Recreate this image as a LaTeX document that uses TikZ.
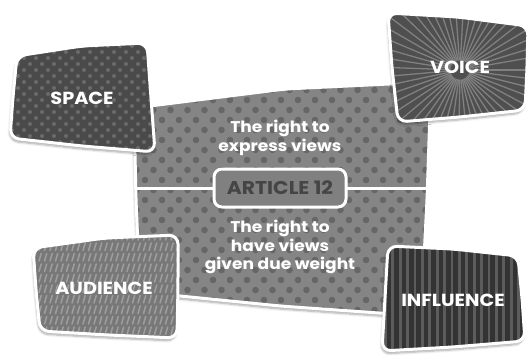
\documentclass[tikz,border=0pt]{standalone}
\usepackage{fontspec}
\setmainfont{Poppins}[FakeStretch=1.1]
\usetikzlibrary{shadows.blur}

\definecolor{midBase}{gray}{0.52}
\definecolor{midDot}{gray}{0.40}
\definecolor{spaceBase}{gray}{0.29}
\definecolor{spaceDot}{gray}{0.42}
\definecolor{voiceBase}{gray}{0.31}
\definecolor{voiceRay}{gray}{0.50}
\definecolor{audBase}{gray}{0.47}
\definecolor{audDash}{gray}{0.62}
\definecolor{inflBase}{gray}{0.20}
\definecolor{inflStripe}{gray}{0.36}
\definecolor{artBase}{gray}{0.50}
\definecolor{artText}{gray}{0.27}

\begin{document}
\begin{tikzpicture}[x=1pt, y=-1pt, line join=round, line cap=round]
	\tikzset{
		frame/.style={draw=white, line width=3pt, rounded corners=9pt},
		shade-box/.style={rounded corners=9pt, blur shadow={shadow xshift=-1pt, shadow yshift=-3pt, shadow blur steps=6, shadow opacity=35}},
		big-label/.style={text=white, font=\bfseries\fontsize{17.5}{17.5}\selectfont},
		small-label/.style={text=white, align=center, font=\bfseries\fontsize{15.5}{18.5}\selectfont},
		article-box/.style={draw=white, line width=3pt, fill=artBase, rounded corners=8pt, minimum width=132pt, minimum height=38pt, text=artText, font=\bfseries\fontsize{18.5}{18.5}\selectfont},
	}
	\def\midpanel{(134,108) -- (285,89) -- (431,82) -- (427,200) -- (421,316) -- (280,306) -- (140,292) -- (136,200) -- cycle}
	\def\spacepanel{(17,56) -- (82,46) -- (147,43) -- (151,98) -- (155,152) -- (82,146) -- (10,138) -- (13,97) -- cycle}
	\def\voicepanel{(388,13) -- (458,17) -- (528,26) -- (527,68) -- (525,110) -- (460,117) -- (398,122) -- (392,68) -- cycle}
	\def\audpanel{(33,248) -- (105,238) -- (178,235) -- (178,286) -- (177,338) -- (108,335) -- (40,331) -- (36,290) -- cycle}
	\def\inflpanel{(388,246) -- (453,249) -- (518,256) -- (522,298) -- (525,341) -- (453,347) -- (382,351) -- (385,298) -- cycle}
	\useasboundingbox (0,0) rectangle (530,356);
	
	% centre panel
	\fill[shade-box, midBase] \midpanel;
	\begin{scope}
		\clip[rounded corners=9pt] \midpanel;
		\foreach \r in {0,...,24}
			\foreach \c in {0,...,18}
				\fill[midDot] ({128+17*\c+8.5*mod(\r,2)},{80+10*\r}) circle (3.3pt);
	\end{scope}
	\draw[frame] \midpanel;
	\draw[white, line width=3pt] (136,188) -- (427,188);
	\node[article-box] (article) at (280,188) {ARTICLE 12};
	\node[small-label] (express) at (280,138) {The right to\\express views};
	\node[small-label] (weight) at (280,247) {The right to\\have views\\given due weight};
	
	% space
	\fill[shade-box, spaceBase] \spacepanel;
	\begin{scope}
		\clip[rounded corners=9pt] \spacepanel;
		\foreach \r in {0,...,19}
			\foreach \c in {0,...,13}
				\fill[spaceDot] ({6+12*\c+6*mod(\r,2)},{40+6*\r}) circle (2pt);
	\end{scope}
	\draw[frame] \spacepanel;
	\node[big-label] (space) at (82,98) {SPACE};
	
	% voice
	\fill[shade-box, voiceBase] \voicepanel;
	\begin{scope}
		\clip[rounded corners=9pt] \voicepanel;
		\foreach \a in {0,7,...,353}
			\draw[voiceRay, line width=1.3pt, shift={(460,70)}] (\a:10) -- (\a:140);
	\end{scope}
	\draw[frame] \voicepanel;
	\node[big-label] (voice) at (460,67) {VOICE};
	
	% audience
	\fill[shade-box, audBase] \audpanel;
	\begin{scope}
		\clip[rounded corners=9pt] \audpanel;
		\foreach \r in {0,...,11}
			\foreach \c in {0,...,29}
				\draw[audDash, line width=1.5pt] ({28+5.5*\c},{240+10.5*\r}) -- ++(2.2,-7.5);
	\end{scope}
	\draw[frame] \audpanel;
	\node[big-label] (audience) at (104,288) {AUDIENCE};
	
	% influence
	\fill[shade-box, inflBase] \inflpanel;
	\begin{scope}
		\clip[rounded corners=9pt] \inflpanel;
		\foreach \c in {0,...,21}
			\draw[inflStripe, line width=2.8pt] ({378+7.4*\c},240) -- ({378+7.4*\c},356);
	\end{scope}
	\draw[frame] \inflpanel;
	\node[big-label] (influence) at (453,300) {INFLUENCE};
	
\end{tikzpicture}
\end{document}
